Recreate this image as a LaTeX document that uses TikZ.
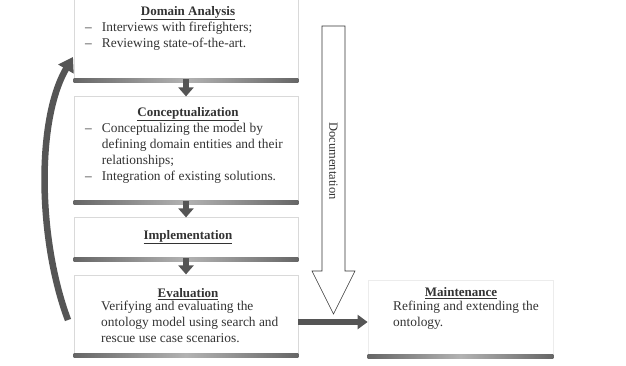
\documentclass[tikz,border=0pt]{standalone}
\usepackage{fontspec}
\setmainfont{Liberation Serif}
\usetikzlibrary{arrows.meta}
\definecolor{txt}{HTML}{333333}
\definecolor{arr}{HTML}{555555}
\tikzset{
  box/.style={draw=gray!30, line width=0.8pt, fill=white, rectangle, inner sep=0pt},
  body/.style={font=\fontsize{13.4}{16}\selectfont, text=txt, inner sep=0pt, align=left},
  ttl/.style={font=\fontsize{13}{16}\selectfont\bfseries, text=txt, inner sep=0pt},
  stepArrow/.style={draw=arr, line width=6pt, -{Triangle[length=9pt, width=15pt]}},
}
\newcommand{\ul}[1]{\underline{#1}}
\newcommand{\boxshadow}[1]{%
  \shade[left color=black!60, right color=black!60, middle color=black!30]
    ([yshift=-0.5pt]#1.south west) rectangle ([yshift=-4pt]#1.south east);}
\begin{document}
\begin{tikzpicture}[x=1pt, y=-1pt]
\useasboundingbox (0,0) rectangle (626,365);
\fill[white] (0,0) rectangle (626,365);

% boxes
\node[box, minimum width=224pt, minimum height=83pt] (da) at (186,36.5) {};
\node[box, minimum width=224pt, minimum height=104pt] (co) at (186,148) {};
\node[box, minimum width=224pt, minimum height=40pt] (im) at (186,237) {};
\node[box, minimum width=224pt, minimum height=78pt] (ev) at (186,314) {};
\node[box, draw=gray!15, minimum width=185pt, minimum height=74pt] (mt) at (460.5,317) {};
\boxshadow{da}
\boxshadow{co}
\boxshadow{im}
\boxshadow{ev}
\boxshadow{mt}

% texts
\node[ttl] (t1) at (188,13) {\ul{Domain Analysis}};
\node[body, anchor=north west] (b1) at (85,20) {%
  \begin{tabular}{@{}l@{\hspace{10pt}}l@{}}
  -- & Interviews with firefighters;\\
  -- & Reviewing state-of-the-art.
  \end{tabular}};

\node[ttl] (t2) at (188,114) {\ul{Conceptualization}};
\node[body, anchor=north west] (b2) at (85,121) {%
  \begin{tabular}{@{}l@{\hspace{10pt}}l@{}}
  -- & Conceptualizing the model by\\
     & defining domain entities and their\\
     & relationships;\\
  -- & Integration of existing solutions.
  \end{tabular}};

\node[ttl] (t3) at (188,237) {\ul{Implementation}};

\node[ttl] (t4) at (188,294) {\ul{Evaluation}};
\node[body, anchor=north west] (b4) at (101,301) {%
  Verifying and evaluating the\\
  ontology model using search and\\
  rescue use case scenarios.};

\node[ttl] (t5) at (461,293) {\ul{Maintenance}};
\node[body, anchor=north west] (b5) at (393,301) {%
  Refining and extending the\\
  ontology.};

% step arrows
\draw[stepArrow] (da.south) ++(0,1) -- ++(0,17);
\draw[stepArrow] (co.south) ++(0,1) -- ++(0,16);
\draw[stepArrow] (im.south) ++(0,1) -- ++(0,16);

% documentation arrow
\draw[draw=txt, line width=0.6pt, fill=white]
  (322,26) -- (345,26) -- (345,271) -- (355,271) -- (333.5,314)
  -- (312,271) -- (322,271) -- cycle;
\node[font=\fontsize{12.5}{14}\selectfont, text=txt, rotate=-90] (doc) at (333.5,161) {Documentation};

% evaluation -> maintenance
\draw[draw=arr, line width=5.5pt, -{Triangle[length=10pt, width=14pt]}]
  (ev.east |- 0,322) -- (mt.west |- 0,322);

% feedback arrow
\coordinate (fbs) at (68,320);
\coordinate (fbe) at (73,57);
\draw[draw=arr, line width=6.5pt, -{Triangle[length=14pt, width=17pt]}]
  (fbs) .. controls (38,240) and (36,120) .. (fbe);
\end{tikzpicture}
\end{document}
